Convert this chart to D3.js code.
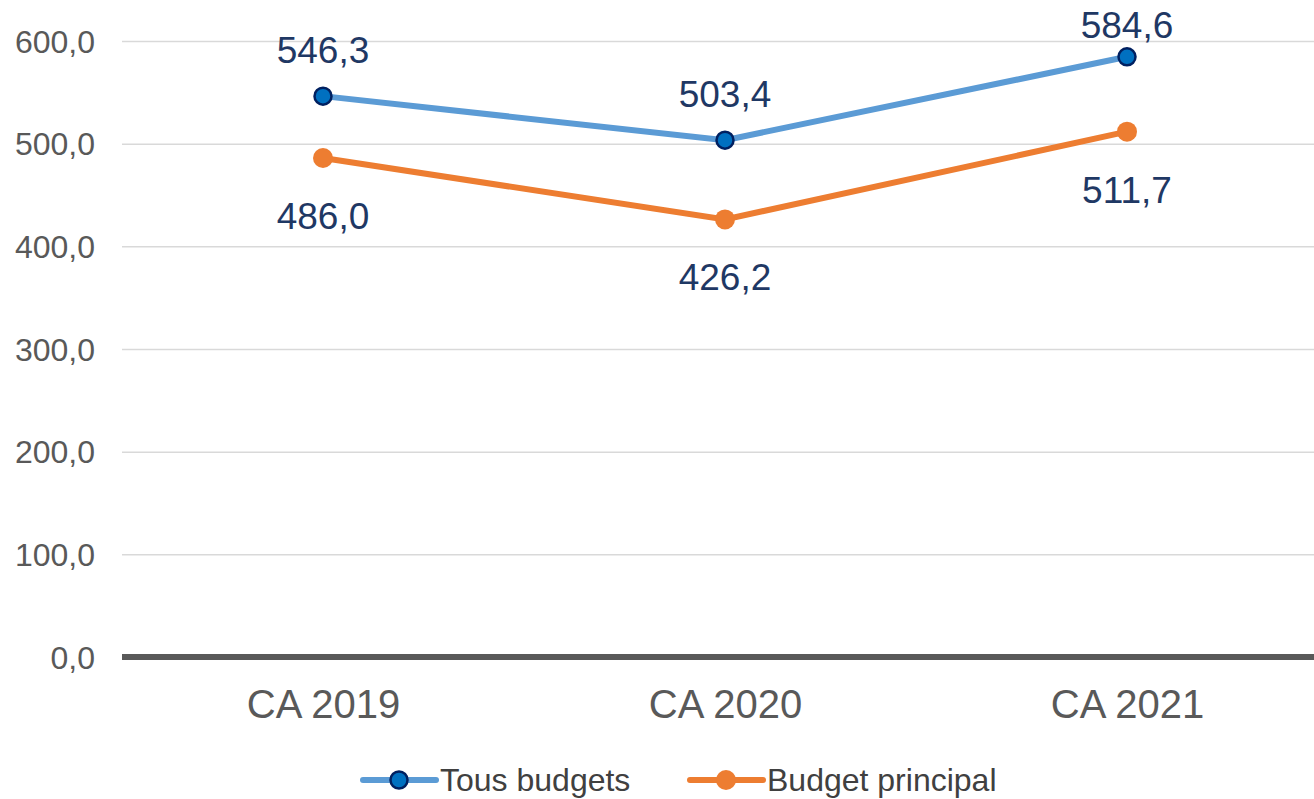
<!DOCTYPE html>
<html lang="fr">
<head>
    <meta charset="UTF-8">
    <title>CA 2019 - 2021</title>
    <script src="https://d3js.org/d3.v7.min.js"></script>
    <style>
        body { margin: 0; background: #fff; }
        svg { display: block; font-family: "Liberation Sans", Arial, sans-serif; }
        .grid line { stroke: #d9d9d9; stroke-width: 1.5; }
        .grid path { display: none; }
        .grid text { fill: #595959; font-size: 32px; }
        .xaxis path { display: none; }
        .xaxis text { fill: #595959; font-size: 40px; }
        .label { fill: #1f3864; font-size: 37px; text-anchor: middle; }
        .legend text { fill: #404040; font-size: 32px; }
    </style>
</head>
<body>
<div id="chart"></div>
<script>
    // data
    var categories = ["CA 2019", "CA 2020", "CA 2021"];
    var tousBudgets = [546.3, 503.4, 584.6];
    var budgetPrincipal = [486.0, 426.2, 511.7];
    var yTicks = [0, 100, 200, 300, 400, 500, 600];
    var seriesNames = ["Tous budgets", "Budget principal"];

    var width = 1314, height = 799;
    // plot area (note: "top" is reserved on window, so use margin names)
    var plotLeft = 122, plotRight = 1328, plotTop = 41, plotBottom = 657;

    var svg = d3.select("#chart").append("svg")
        .attr("width", width)
        .attr("height", height);

    var x = d3.scalePoint().domain(categories).range([plotLeft, plotRight]).padding(0.5);
    var y = d3.scaleLinear().domain([0, 600]).range([plotBottom, plotTop]);

    var fmt = function (d) { return d.toFixed(1).replace(".", ","); };

    // grid + y labels
    var gy = svg.append("g")
        .attr("class", "grid")
        .attr("transform", "translate(" + plotLeft + ",0)")
        .call(d3.axisLeft(y).tickValues(yTicks).tickSize(-(width - plotLeft)).tickPadding(27).tickFormat(fmt));
    gy.selectAll("text").attr("dy", "0.35em");

    // zero line
    svg.append("line")
        .attr("x1", plotLeft).attr("x2", width)
        .attr("y1", y(0)).attr("y2", y(0))
        .attr("stroke", "#595959").attr("stroke-width", 6);

    // x axis
    svg.append("g")
        .attr("class", "xaxis")
        .attr("transform", "translate(0," + y(0) + ")")
        .call(d3.axisBottom(x).tickSize(0).tickPadding(33))
        .selectAll("text").attr("dy", "0.71em");

    var line = d3.line()
        .x(function (d, i) { return x(categories[i]); })
        .y(function (d) { return y(d); });

    var series = [
        { name: seriesNames[0], values: tousBudgets, color: "#5b9bd5", fill: "#0070c0", stroke: "#002060", r: 8.5, above: true },
        { name: seriesNames[1], values: budgetPrincipal, color: "#ed7d31", fill: "#ed7d31", stroke: "none", r: 10, above: false }
    ];

    series.forEach(function (s) {
        svg.append("path")
            .datum(s.values)
            .attr("fill", "none")
            .attr("stroke", s.color)
            .attr("stroke-width", 6)
            .attr("d", line);

        svg.selectAll(null)
            .data(s.values)
            .enter().append("circle")
            .attr("cx", function (d, i) { return x(categories[i]); })
            .attr("cy", function (d) { return y(d); })
            .attr("r", s.r)
            .attr("fill", s.fill)
            .attr("stroke", s.stroke)
            .attr("stroke-width", 2.5);

        svg.selectAll(null)
            .data(s.values)
            .enter().append("text")
            .attr("class", "label")
            .attr("x", function (d, i) { return x(categories[i]); })
            .attr("y", function (d) {
                return s.above ? Math.max(y(d) - 33, 38) : y(d) + 71;
            })
            .text(fmt);
    });

    // legend
    var legend = svg.append("g").attr("class", "legend");
    var legendX = [363, 690];
    series.forEach(function (s, i) {
        var g = legend.append("g").attr("transform", "translate(" + legendX[i] + ",780)");
        g.append("line")
            .attr("x1", 0).attr("x2", 73)
            .attr("stroke", s.color).attr("stroke-width", 6)
            .attr("stroke-linecap", "round");
        g.append("circle")
            .attr("cx", 36).attr("r", s.r)
            .attr("fill", s.fill)
            .attr("stroke", s.stroke).attr("stroke-width", 2.5);
        g.append("text")
            .attr("x", 77).attr("y", 11)
            .text(s.name);
    });
</script>
</body>
</html>
